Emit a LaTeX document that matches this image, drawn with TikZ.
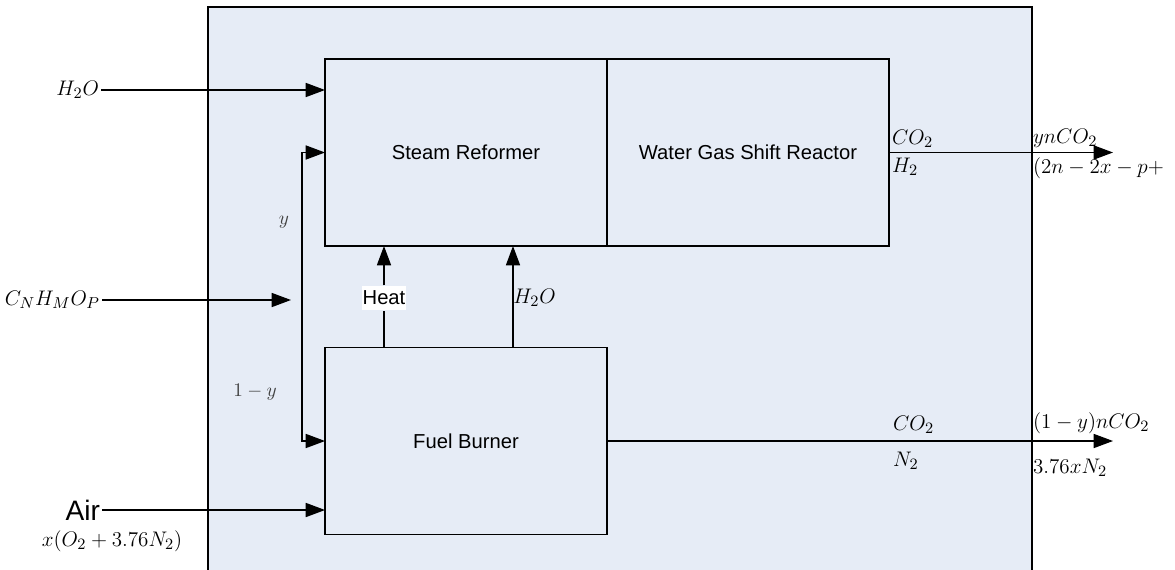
\documentclass[tikz,border=0pt]{standalone}
\usepackage{fontspec}
\setsansfont{Liberation Sans}
\usetikzlibrary{arrows.meta}
\definecolor{panel}{RGB}{230,236,246}
\tikzset{
  unit/.style={draw, thick, outer sep=0pt, minimum width=5.64cm, minimum height=3.74cm, font=\sffamily\fontsize{11.5}{14}\selectfont},
  flow/.style={thick, -{Triangle[length=11pt,width=8pt]}},
  chem/.style={inner sep=1pt, font=\fontsize{12.5}{14}\selectfont},
  part/.style={inner sep=1pt, text=black!75, font=\fontsize{11}{12}\selectfont},
}
\begin{document}
\begin{tikzpicture}[x=0.02cm, y=-0.02cm]
  \useasboundingbox (0,0) rectangle (1175,569);
  \clip (0,0) rectangle (1175,569);
  \draw[thick, fill=panel] (208,7) rectangle (1032,600);

  \node[unit] (reformer) at (466,152.5) {Steam Reformer};
  \node[unit, anchor=west] (wgs) at (reformer.east) {Water Gas Shift Reactor};
  \node[unit] (burner) at (466,441) {Fuel Burner};

  \node[chem, anchor=east] (water) at (101,90) {$H_2O$};
  \node[chem, anchor=east] (fuel) at (102,300) {$C_N H_M O_P$};
  \node[anchor=east, inner sep=1pt, font=\sffamily\fontsize{16}{18}\selectfont] (air) at (102,510) {Air};
  \node[chem] (airmix) at (112,541) {$x(O_2+3.76N_2)$};
  \coordinate (split) at (302,300);
  \coordinate (fueltip) at (291,300);
  \node[part] (yup) at (284,222) {$y$};
  \node[part] (ydown) at (255,392) {$1-y$};

  \draw[flow] (water.east) -- (water.east -| reformer.west);
  \draw[flow] (fuel.east) -- (fueltip);
  \draw[flow] (split) |- (reformer.west);
  \draw[flow] (split) |- (burner.west);
  \draw[flow] (air.east) -- (air.east -| burner.west);

  \node[fill=white, inner xsep=0.5pt, inner ysep=3pt, font=\sffamily\fontsize{11.5}{14}\selectfont] (heat) at (384,298) {Heat};
  \draw[thick] (heat |- burner.north) -- (heat.south);
  \draw[flow] (heat.north) -- (heat |- reformer.south);
  \node[chem, anchor=west, inner sep=0pt] (steam) at (513,298) {$H_2O$};
  \draw[flow] (steam.west |- burner.north) -- (steam.west |- reformer.south);

  \coordinate (gastip) at (1113,152.5);
  \coordinate (fluetip) at (1113,441);
  \draw[flow] (wgs.east) -- (gastip);
  \draw[flow] (burner.east) -- (fluetip);

  \node[chem, anchor=south west] (gasco) at (890,150) {$CO_2$};
  \node[chem, anchor=north west] (gash) at (890,156) {$H_2$};
  \node[chem, anchor=south west] (prodco) at (1031,150) {$ynCO_2$};
  \node[chem, anchor=north west] (prodh) at (1031,156) {$(2n-2x-p+$};
  \node[chem, anchor=south west] (flueco) at (891,436) {$CO_2$};
  \node[chem, anchor=north west] (fluen) at (891,450) {$N_2$};
  \node[chem, anchor=south west] (ventco) at (1031,436) {$(1-y)nCO_2$};
  \node[chem, anchor=north west] (ventn) at (1031,457) {$3.76xN_2$};
\end{tikzpicture}
\end{document}
